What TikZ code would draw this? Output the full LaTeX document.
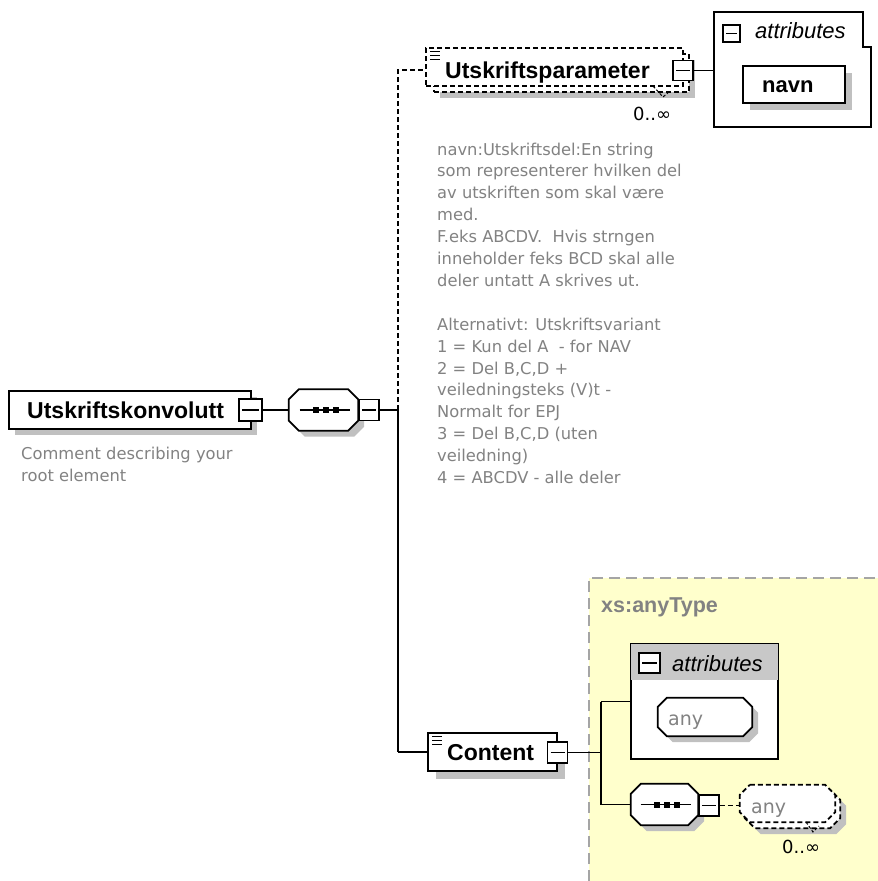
\documentclass[tikz,border=0pt]{standalone}
\usepackage{fontspec}
\setmainfont{DejaVu Sans}
\newfontfamily\lib{Liberation Sans}
\usetikzlibrary{calc,shadows}
\definecolor{shd}{RGB}{192,192,192}
\definecolor{cmt}{RGB}{130,130,130}
\definecolor{ylw}{RGB}{255,255,204}
\definecolor{hdr}{RGB}{200,200,200}
\definecolor{dashgray}{RGB}{165,165,165}

% octagon drawn inside the bounding box of a (hidden) node
\newcommand\octo[3]{%
  \draw[#3] ($(#1.north west)+(#2,0)$) -- ($(#1.north east)+(-#2,0)$) --
    ($(#1.north east)+(0,#2)$) -- ($(#1.south east)+(0,-#2)$) --
    ($(#1.south east)+(-#2,0)$) -- ($(#1.south west)+(#2,0)$) --
    ($(#1.south west)+(0,-#2)$) -- ($(#1.north west)+(0,#2)$) -- cycle;}
% sequence compositor symbol
\newcommand\seqsym[1]{%
  \draw[line width=1.4pt] ($(#1.center)+(-24,0)$) -- ($(#1.center)+(26,0)$);
  \foreach \dx in {-8,2,12}
    \fill ($(#1.center)+(\dx-3,-3)$) rectangle ($(#1.center)+(\dx+3,3)$);}
% documentation icon
\newcommand\docicon[1]{%
  \foreach \dy in {4.5,8.5,12.5}
    \draw[line width=1pt] ($(#1.north west)+(5,\dy)$) -- ($(#1.north west)+(15,\dy)$);}

\tikzset{
  lw/.style={line width=1.7pt},
  conn/.style={lw},
  optconn/.style={lw, dash pattern=on 5pt off 3pt},
  sh/.style={drop shadow={shadow xshift=#1, shadow yshift=-#1, fill=shd, opacity=1}},
  frame/.style={draw, lw, fill=white, rectangle, inner sep=0pt},
  dashbox/.style={draw, lw, dash pattern=on 5pt off 3pt, fill=white, rectangle, inner sep=0pt},
  hold/.style={rectangle, inner sep=0pt, draw=none},
  minusbox/.style={frame, minimum width=20pt, minimum height=21pt,
    path picture={\draw[line width=1.3pt] ($(path picture bounding box.west)+(3,0)$) -- ($(path picture bounding box.east)+(-3,0)$);}},
  namet/.style={anchor=base west, inner sep=0pt, font=\lib\bfseries\fontsize{#1}{#1}\selectfont},
  namet/.default=23,
  attrt/.style={anchor=base west, inner sep=0pt, font=\lib\itshape\fontsize{22}{24}\selectfont},
  cmtt/.style={anchor=base west, inner sep=0pt, align=left, text=cmt, font=\fontsize{16.3}{21.9}\selectfont},
  anyt/.style={anchor=base west, inner sep=0pt, text=cmt, font=\fontsize{19}{22}\selectfont},
  multt/.style={anchor=base west, inner sep=0pt, font=\fontsize{18}{20}\selectfont},
  ticks/.style={line width=1pt, dash pattern=on 3pt off 2pt},
}

\begin{document}
\begin{tikzpicture}[x=1pt,y=-1pt]
\useasboundingbox (0,0) rectangle (878,881);
\fill[white] (0,0) rectangle (878,881);

% yellow type area
\fill[ylw] (589,578) rectangle (878,881);
\draw[dashgray, line width=1.4pt, dash pattern=on 11pt off 6pt] (589,881) -- (589,578) -- (878,578);
\node[anchor=west, inner sep=0pt, text=cmt, font=\lib\bfseries\fontsize{21.5}{24}\selectfont] (anytype) at (601,607) {xs:anyType};

% root element
\node[frame, sh=6pt, minimum width=242pt, minimum height=38pt] (root) at (130,410) {};
\node[namet] (roottxt) at (27,418) {Utskriftskonvolutt};
\node[minusbox, minimum width=23pt, minimum height=22pt] (rootmin) at (250.5,410) {};
% base anchor of a multi-line node = baseline of its last line
\node[cmtt] (rootcmt) at (21,481) {Comment describing your\\root element};

% sequence 1
\node[hold, minimum width=69pt, minimum height=41pt] (seq1) at (323.5,410) {};
\octo{seq1}{10}{lw, fill=white, sh=6pt}
\seqsym{seq1}
\node[minusbox] (seq1min) at (369,410) {};
\draw[conn] (rootmin.east) -- (seq1.west);

\coordinate (b0) at (398,410);
\coordinate (bt) at (398,70);
\coordinate (bb) at (398,752);

% Utskriftsparameter
\node[dashbox, sh=6pt, minimum width=255pt, minimum height=38pt] (paramback) at (561.5,73) {};
\node[dashbox, minimum width=257pt, minimum height=38pt] (param) at (554.5,67) {};
\docicon{param}
\node[namet] (paramtxt) at (445,78) {Utskriftsparameter};
\node[minusbox, minimum height=20pt] (parammin) at (683,70.5) {};
\draw[ticks] (653,86) -- (663,97) -- (670,91);
\node[multt] (mult1) at (633,120) {0..∞};
\draw[optconn] (b0) -- (bt) -- (bt -| param.west);
\draw[conn] (seq1min.east) -- (b0) -- (bb);

\node[cmtt] (paramcmt) at (437,483.5) {navn:Utskriftsdel:En string\\
som representerer hvilken del\\
av utskriften som skal være\\
med.\\
F.eks ABCDV.\ \ Hvis strngen\\
inneholder feks BCD skal alle\\
deler untatt A skrives ut.\\[21.9pt]
Alternativt: Utskriftsvariant\\
1 = Kun del A\ \ - for NAV\\
2 = Del B,C,D +\\
veiledningsteks (V)t -\\
Normalt for EPJ\\
3 = Del B,C,D (uten\\
veiledning)\\
4 = ABCDV - alle deler};

% attributes of Utskriftsparameter
\node[hold, minimum width=157pt, minimum height=115pt] (attr1) at (792.5,69.5) {};
\draw[lw, fill=white] (attr1.north west) -- ($(attr1.north east)+(-8,0)$) -- ($(attr1.north east)+(-8,35)$)
  -- ($(attr1.north east)+(0,35)$) -- (attr1.south east) -- (attr1.south west) -- cycle;
\draw[conn] (parammin.east) -- (parammin.east -| attr1.west);
\node[minusbox, minimum width=17pt, minimum height=17pt] (attr1min) at (731.5,33.5) {};
\node[attrt] (attr1txt) at (755,38) {attributes};
\node[frame, sh=7pt, minimum width=102pt, minimum height=37pt] (navn) at (794,84.5) {};
\node[namet=22] (navntxt) at (762,92) {navn};

% Content
\node[frame, sh=8pt, minimum width=129pt, minimum height=38pt] (content) at (492.5,752) {};
\docicon{content}
\node[namet] (contenttxt) at (447,760) {Content};
\node[minusbox] (contentmin) at (557.5,752.5) {};
\draw[conn] (bb) -- (content.west);

% attributes of Content
\node[frame, minimum width=147pt, minimum height=115pt] (attr2) at (704.5,701.5) {};
\fill[hdr] ($(attr2.north west)+(0.85,0.85)$) rectangle ($(attr2.north east)+(-0.85,37)$);
\node[minusbox, minimum width=21pt, minimum height=20pt] (attr2min) at (649.5,663) {};
\node[attrt] (attr2txt) at (672,671.5) {attributes};
\node[hold, minimum width=94pt, minimum height=38pt] (any1) at (705,717) {};
\octo{any1}{9}{lw, fill=white, sh=6pt}
\node[anyt] (any1txt) at (668,725) {any};

% sequence 2
\node[hold, minimum width=67pt, minimum height=41pt] (seq2) at (664.5,804.5) {};
\octo{seq2}{10}{lw, fill=white, sh=6pt}
\seqsym{seq2}
\node[minusbox] (seq2min) at (709,805.5) {};

\coordinate (c0) at (601,752.5);
\draw[conn] (contentmin.east) -- (c0);
\draw[conn] (attr2.west -| c0) -- (c0 |- seq2.west) -- (seq2.west);
\draw[conn] (attr2.west -| c0) -- (attr2.west);

% any (wildcard, 0..inf)
\node[hold, minimum width=95pt, minimum height=38pt] (any2back) at (792.5,809) {};
\node[hold, minimum width=95pt, minimum height=37pt] (any2) at (787.5,803.5) {};
\octo{any2back}{10}{lw, dash pattern=on 5pt off 3pt, fill=white, sh=6pt}
\octo{any2}{10}{lw, dash pattern=on 5pt off 3pt, fill=white}
\draw[optconn] (seq2min.east) -- (seq2min.east -| any2.west);
\node[anyt] (any2txt) at (751,813) {any};
\draw[ticks] (806,822) -- (813,832) -- (819,826);
\node[multt] (mult2) at (782,853) {0..∞};
\end{tikzpicture}
\end{document}
